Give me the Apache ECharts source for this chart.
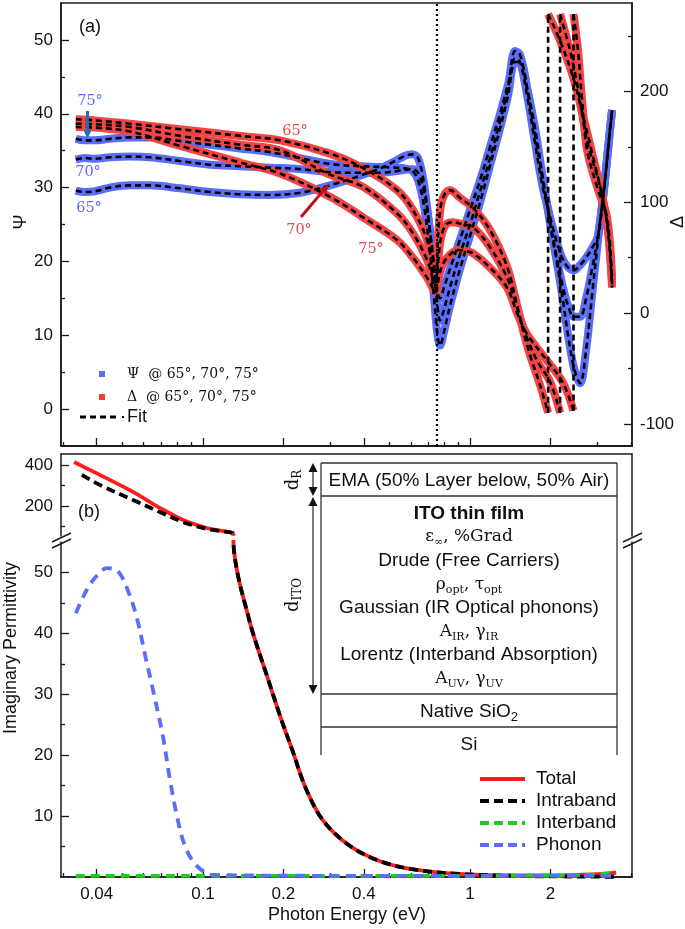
<!DOCTYPE html>
<html><head><meta charset="utf-8">
<script src="https://cdn.jsdelivr.net/npm/echarts@6/dist/echarts.min.js"></script>
<style>html,body{margin:0;padding:0;background:#fff}#c{width:685px;height:929px}</style>
</head><body><div id="c"></div>
<script>
// ---------------- DATA ----------------
const xTickMajor = [0.04, 0.1, 0.2, 0.4, 1, 2];
const xTickMinor = [0.03, 0.05, 0.06, 0.07, 0.08, 0.09, 0.3, 0.5, 0.6, 0.7, 0.8, 0.9, 3, 4];
const psiTickMajor = [0, 10, 20, 30, 40, 50];
const psiTickMinor = [5, 15, 25, 35, 45];
const deltaTickMajor = [-100, 0, 100, 200];
const deltaTickMinor = [-50, 50, 150, 250];
const epsUpperTickMajor = [200, 400];
const epsUpperTickMinor = [100, 300];
const epsLowerTickMajor = [10, 20, 30, 40, 50];
const epsLowerTickMinor = [5, 15, 25, 35, 45];

// (a) Psi (deg) vs photon energy (eV)
const psiEnergy = [0.0334,0.0361,0.0394,0.0448,0.0533,0.0633,0.0820,0.1062,0.1376,0.1782,0.2308,0.2990,0.3873,0.4602,0.5237,0.5709,0.6065,0.6387,0.6725,0.7083,0.7332,0.7524,0.7721,0.7991,0.8415,0.9174,1.000,1.090,1.188,1.295,1.388,1.474,1.539,1.635,1.752,1.860,1.994,2.099,2.211,2.328,2.452,2.582,2.720,2.864,3.016,3.177,3.345,3.403];
const psi65 = [29.6,29.4,29.5,30.0,30.3,30.3,29.9,29.4,29.1,29.0,29.3,30.3,31.6,32.6,33.6,34.3,34.5,34.0,30.5,24.0,19.5,16.0,15.0,16.5,19.0,23.0,27.0,31.0,35.5,40.0,44.0,47.5,47.0,42.5,36.0,30.5,26.0,23.0,20.5,19.2,18.8,19.5,20.5,21.8,23.5,30.0,38.0,40.5];
const psi70 = [33.8,34.0,33.9,34.1,34.2,34.1,33.6,33.1,32.9,32.7,32.5,32.1,32.0,32.0,32.2,32.4,32.5,32.0,29.5,24.0,19.0,14.5,12.0,13.5,16.5,21.0,25.0,29.5,34.0,39.0,43.5,48.5,48.0,43.5,37.0,31.5,25.5,21.0,17.0,14.0,12.5,12.5,15.0,19.0,23.5,30.0,38.0,40.5];
const psi75 = [36.6,36.4,36.4,36.6,36.8,36.8,36.3,35.8,35.3,34.8,34.0,33.2,32.9,32.8,32.7,32.6,32.3,31.0,27.5,21.0,15.0,10.5,8.6,10.5,14.0,19.0,23.5,28.0,33.0,38.0,42.5,47.0,47.0,43.5,38.0,32.0,25.0,20.5,15.5,10.0,5.5,3.5,8.0,15.5,23.0,30.0,38.0,40.5];

// (a) Delta (deg) vs photon energy (eV); the 360 deg wrap is a repeated energy
const delta65Energy = [0.0334,0.0394,0.0533,0.0820,0.1376,0.1942,0.2990,0.3975,0.5327,0.6116,0.6902,0.7271,0.7458,0.7588,0.7787,0.8063,0.8415,0.9174,1.026,1.188,1.376,1.474,1.566,1.677,1.829,1.960,1.960,2.173,2.431,2.650,2.888,3.149,3.290,3.403];
const delta65 = [175,174,171,166,160,156,144,131,111,93,66,38,28,70,98,108,111,104,95,75,42,15,-12,-38,-65,-90,270,246,213,178,141,102,72,23];
const delta70Energy = [0.0334,0.0394,0.0533,0.0820,0.1376,0.1942,0.2990,0.3975,0.5327,0.6116,0.6902,0.7271,0.7458,0.7588,0.7787,0.8131,0.8635,0.9414,1.026,1.188,1.376,1.500,1.607,1.782,1.994,2.173,2.173,2.369,2.516,2.743,3.068,3.287,3.403];
const delta70 = [171,170.5,168,160,152,147,125,114,90,72,48,30,23,45,68,80,82,80,77.5,59.5,32,5,-18,-43,-62,-90,270,237,207,156,114,75,26];
const delta75Energy = [0.0334,0.0394,0.0533,0.0820,0.1376,0.1942,0.2990,0.3975,0.5327,0.6116,0.6902,0.7271,0.7458,0.7588,0.7787,0.8202,0.9017,0.9660,1.026,1.188,1.376,1.500,1.635,1.943,2.230,2.440,2.440,2.537,2.627,2.743,2.990,3.260,3.403];
const delta75 = [168,167.5,164,151,136,126,105,86.5,66,50,32,22,19,28,40,50,57,56,54,41,23,0,-19,-43,-63,-88,270,237,192,147,114,86,30];
const dottedEnergy = 0.752;

// (b) Imaginary permittivity
const totalEnergy = [0.0329,0.0411,0.0547,0.0690,0.0842,0.1035,0.1160,0.1290,0.1300,0.1352,0.1474,0.1539,0.1737,0.1942,0.2173,0.2430,0.2814,0.3522,0.4602,0.6223,0.9097,1.593,2.369,3.000,3.523];
const totalValues = [415,352,269,191,132,93,80,69,55,49.5,43,40,33,26.5,20.5,14.5,9.3,5.2,2.6,1.2,0.5,0.25,0.3,0.45,0.7];
const intraEnergy = [0.0352,0.0411,0.0547,0.0690,0.0842,0.1035,0.1160,0.1290,0.1300,0.1352,0.1474,0.1539,0.1737,0.1942,0.2173,0.2430,0.2814,0.3522,0.4602,0.6223,0.9097,1.593,2.369,3.000,3.523];
const intraValues = [352,303,230,171,122,88,78,69,55,49.5,43,40,33,26.5,20.5,14.5,9.3,5.2,2.6,1.2,0.5,0.15,0.08,0.05,0.04];
const interEnergy = [0.0334,0.1,0.5,1.0,2.0,2.5,3.0,3.523];
const interValues = [0.2,0.2,0.2,0.2,0.22,0.28,0.42,0.75];
const phononEnergy = [0.0334,0.03677,0.04009,0.0437,0.04804,0.05237,0.05659,0.06065,0.06498,0.07085,0.0752,0.0799,0.08488,0.09096,0.09829,0.1062,0.15,0.3,1.0,3.523];
const phononValues = [43.3,47.2,49.5,50.7,50.2,47,42.5,36.5,30.7,23,16,10,5.5,2.8,1.2,0.4,0.25,0.2,0.2,0.2];

// ---------------- STYLE ----------------
const SANS = '"Liberation Sans", Arial, sans-serif';
const SERIF = '"DejaVu Serif", serif';
const AX = '#1a1a1a';
const BLUE = '#5b6ef7', RED = '#f24545';
const X_MIN = 0.0294, X_MAX = 4.04;
const UPPER_MIN = 54, UPPER_MAX = 454, LOWER_MAX = 55;

function pairs(xs, ys) { return xs.map((x, i) => [x, ys[i]]); }
function broken(xs, ys) {
  const out = [];
  for (let i = 0; i < xs.length; i++) {
    if (i > 0 && Math.abs(ys[i] - ys[i - 1]) > 300) out.push([xs[i], '-']);
    out.push([xs[i], ys[i]]);
  }
  return out;
}
function wraps(xs, ys) {
  const out = [];
  for (let i = 1; i < xs.length; i++) {
    if (Math.abs(ys[i] - ys[i - 1]) > 300) {
      if (out.length) out.push([xs[i], '-']);
      out.push([xs[i - 1], ys[i - 1]], [xs[i], ys[i]]);
    }
  }
  return out;
}
function above(data, lim) { return data.filter(p => p[1] >= lim); }

function xAxisDef(grid, pos, ticks, len, labels) {
  return {
    type: 'log', logBase: 10, gridIndex: grid, min: X_MIN, max: X_MAX, position: pos,
    axisLine: { show: !!ticks || !labels, onZero: false, lineStyle: { color: AX, width: 1.5 } },
    axisTick: ticks ? { show: true, inside: true, length: len, customValues: ticks, lineStyle: { color: AX, width: 1.3 } } : { show: false },
    axisLabel: labels ? { show: true, customValues: labels, fontSize: 17, fontFamily: SANS, color: '#111', margin: 9 } : { show: false },
    splitLine: { show: false }, minorTick: { show: false }, minorSplitLine: { show: false }
  };
}
function yAxisDef(grid, pos, min, max, ticks, len, labels, lineShow) {
  return {
    type: 'value', gridIndex: grid, min: min, max: max, position: pos,
    axisLine: { show: lineShow, onZero: false, lineStyle: { color: AX, width: 1.5 } },
    axisTick: ticks ? { show: true, inside: true, length: len, customValues: ticks, lineStyle: { color: AX, width: 1.3 } } : { show: false },
    axisLabel: labels ? { show: true, customValues: labels, fontSize: 17, fontFamily: SANS, color: '#111', margin: 8 } : { show: false },
    splitLine: { show: false }
  };
}

const lineBase = { type: 'line', symbol: 'none', showSymbol: false, smooth: 0.35, silent: true, clip: true };
function ser(data, xi, yi, color, width, dash, extra) {
  return Object.assign({}, lineBase, {
    xAxisIndex: xi, yAxisIndex: yi, data: data,
    lineStyle: { color: color, width: width, type: dash || 'solid', cap: 'butt' }
  }, extra || {});
}

const FITDASH = [6, 4];
const series = [
  ser(pairs(psiEnergy, psi65), 0, 0, BLUE, 8),
  ser(pairs(psiEnergy, psi70), 0, 0, BLUE, 8),
  ser(pairs(psiEnergy, psi75), 0, 0, BLUE, 8),
  ser(broken(delta65Energy, delta65), 0, 1, RED, 8),
  ser(broken(delta70Energy, delta70), 0, 1, RED, 8),
  ser(broken(delta75Energy, delta75), 0, 1, RED, 8),
  ser(pairs(psiEnergy, psi65), 0, 0, '#000', 2.6, FITDASH),
  ser(pairs(psiEnergy, psi70), 0, 0, '#000', 2.6, FITDASH),
  ser(pairs(psiEnergy, psi75), 0, 0, '#000', 2.6, FITDASH),
  ser(broken(delta65Energy, delta65), 0, 1, '#000', 2.6, FITDASH),
  ser(broken(delta70Energy, delta70), 0, 1, '#000', 2.6, FITDASH),
  ser(broken(delta75Energy, delta75), 0, 1, '#000', 2.6, FITDASH),
  ser(wraps(delta65Energy, delta65).concat([[1, '-']], wraps(delta70Energy, delta70), [[1, '-']], wraps(delta75Energy, delta75)), 0, 1, '#000', 2.6, FITDASH, {
    smooth: false,
    markLine: { silent: true, symbol: ['none', 'none'], label: { show: false },
      lineStyle: { color: '#000', width: 2.2, type: [2, 3] }, data: [{ xAxis: dottedEnergy }] }
  }),
  // (b) upper segment of the broken axis
  ser(above(pairs(totalEnergy, totalValues), LOWER_MAX), 2, 4, '#ff1c1c', 3.8),
  ser(above(pairs(intraEnergy, intraValues), LOWER_MAX), 2, 4, '#000', 3.8, [9, 5]),
  // (b) lower segment
  ser(pairs(totalEnergy, totalValues), 3, 7, '#ff1c1c', 3.8),
  ser(pairs(intraEnergy, intraValues), 3, 7, '#000', 3.8, [9, 5]),
  ser(pairs(interEnergy, interValues), 3, 7, '#1ccc1c', 3.8, [9, 6]),
  ser(pairs(phononEnergy, phononValues), 3, 7, '#5b6ef7', 3.8, [10, 7])
];

// ---------------- GRAPHIC ANNOTATIONS ----------------
const G = [];
function T(text, x, y, o) {
  o = o || {};
  const st = { text: text, fill: o.color || '#111', fontSize: o.size || 17, fontFamily: o.family || SANS,
    fontWeight: o.weight || 'normal', align: o.align || 'center', verticalAlign: 'middle',
    textAlign: o.align || 'center', textVerticalAlign: 'middle' };
  if (o.rich) st.rich = o.rich;
  G.push({ type: 'text', x: x, y: y, rotation: o.rot || 0, z: 100, silent: true, style: st });
}
function L(x1, y1, x2, y2, color, w, dash) {
  G.push({ type: 'line', z: 100, silent: true, shape: { x1: x1, y1: y1, x2: x2, y2: y2 },
    style: { stroke: color, lineWidth: w, lineDash: dash || null } });
}
function P(pts, color) { G.push({ type: 'polygon', z: 100, silent: true, shape: { points: pts }, style: { fill: color } }); }
function R(x, y, w, h, color) { G.push({ type: 'rect', z: 100, silent: true, shape: { x: x, y: y, width: w, height: h }, style: { fill: color } }); }
function subRich(size, fam) {
  return {
    m: { fontSize: size, fontFamily: fam, lineHeight: size + 4, fill: '#111', color: '#111' },
    s: { fontSize: Math.round(size * 0.66), fontFamily: fam, lineHeight: Math.round(size * 0.62), verticalAlign: 'bottom', fill: '#111', color: '#111' }
  };
}

const BLUE_TXT = '#5a6ef2', RED_TXT = '#ea4a4c';
// panel (a)
T('(a)', 90, 27, { size: 18 });
T('75°', 90, 101, { color: BLUE_TXT, family: SERIF, size: 14.5 });
T('70°', 88, 172, { color: BLUE_TXT, family: SERIF, size: 14.5 });
T('65°', 89, 208, { color: BLUE_TXT, family: SERIF, size: 14.5 });
L(87.5, 111, 87.5, 131, '#1d6fb8', 3);
P([[83.5, 130], [91.5, 130], [87.5, 139]], '#1d6fb8');
T('65°', 295, 131, { color: RED_TXT, family: SERIF, size: 14.5 });
T('70°', 299, 230, { color: RED_TXT, family: SERIF, size: 14.5 });
T('75°', 371, 249, { color: RED_TXT, family: SERIF, size: 14.5 });
L(301, 217, 322.5, 191.6, '#b3141c', 3);
P([[329, 184], [325.6, 194.2], [319.4, 189.0]], '#b3141c');
// legend (a)
R(99, 371, 6, 6, '#5a6ef2');
T('Ψ  @ 65°, 70°, 75°', 127, 374, { align: 'left', family: SERIF, size: 14 });
R(99, 394, 6, 6, '#f03c3c');
T('Δ  @ 65°, 70°, 75°', 127, 397, { align: 'left', family: SERIF, size: 14 });
L(80, 417, 120, 417, '#000', 3, [6, 4]);
R(122, 416, 2, 2, '#000');
T('Fit', 127, 417, { align: 'left', size: 18 });
T('Ψ', 21, 222, { size: 18, rot: Math.PI / 2 });
T('Δ', 678, 222, { size: 18, rot: Math.PI / 2 });

// panel (b)
T('(b)', 89, 512, { size: 18 });
const BOX = '#333';
L(321, 463, 617, 463, BOX, 1.3);
L(321, 496, 617, 496, BOX, 1.3);
L(321, 694, 617, 694, BOX, 1.3);
L(321, 727, 617, 727, BOX, 1.3);
L(321, 463, 321, 755, BOX, 1.3);
L(617, 463, 617, 755, BOX, 1.3);
const CX = 469;
T('EMA (50% Layer below, 50% Air)', CX, 481, { size: 19 });
T('ITO thin film', CX, 514, { size: 19, weight: 'bold' });
T('{m|ε}{s|∞}{m|, %Grad}', CX, 537, { rich: subRich(17, SERIF) });
T('Drude (Free Carriers)', CX, 561, { size: 19 });
T('{m|ρ}{s|opt}{m|, τ}{s|opt}', CX, 585, { rich: subRich(17, SERIF) });
T('Gaussian (IR Optical phonons)', CX, 608, { size: 19 });
T('{m|A}{s|IR}{m|, γ}{s|IR}', CX, 632, { rich: subRich(17, SERIF) });
T('Lorentz (Interband Absorption)', CX, 655, { size: 19 });
T('{m|A}{s|UV}{m|, γ}{s|UV}', CX, 679, { rich: subRich(17, SERIF) });
T('{m|Native SiO}{s|2}', CX, 712, { rich: subRich(19, SANS) });
T('Si', CX, 745, { size: 19 });
// thickness arrows
L(313, 470, 313, 488, '#222', 1.2);
P([[313, 463], [308.5, 472], [317.5, 472]], '#111');
P([[313, 496], [308.5, 487], [317.5, 487]], '#111');
L(313, 505, 313, 686, '#222', 1.2);
P([[313, 497], [308.5, 506], [317.5, 506]], '#111');
P([[313, 694], [308.5, 685], [317.5, 685]], '#111');
T('{m|d}{s|R}', 293, 480, { rich: subRich(18, SERIF), rot: Math.PI / 2 });
T('{m|d}{s|ITO}', 293, 595, { rich: subRich(18, SERIF), rot: Math.PI / 2 });
// axis break marks
L(52, 542, 71, 533, AX, 1.4); L(52, 548, 71, 539, AX, 1.4);
L(623, 542, 642, 533, AX, 1.4); L(623, 548, 642, 539, AX, 1.4);
// legend (b)
L(480, 779, 525, 779, '#ff1c1c', 4);
T('Total', 536, 779, { align: 'left', size: 19 });
L(480, 801, 525, 801, '#000', 4, [9, 5]);
T('Intraband', 536, 801, { align: 'left', size: 19 });
L(480, 823, 525, 823, '#1ccc1c', 4, [9, 5]);
T('Interband', 536, 823, { align: 'left', size: 19 });
L(480, 845, 525, 845, '#5b6ef7', 4, [9, 5]);
T('Phonon', 536, 845, { align: 'left', size: 19 });
T('Imaginary Permittivity', 11, 648, { size: 18, rot: Math.PI / 2 });
T('Photon Energy (eV)', 347, 915, { size: 18 });

// ---------------- OPTION ----------------
const option = {
  animation: false,
  backgroundColor: '#fff',
  grid: [
    { left: 61, top: 3, width: 571, height: 443, show: true, borderColor: AX, borderWidth: 1.5, backgroundColor: 'transparent' },
    { left: 61, top: 454, width: 571, height: 82 },
    { left: 61, top: 542, width: 571, height: 335 }
  ],
  xAxis: [
    xAxisDef(0, 'bottom', xTickMajor, 8, null),
    xAxisDef(0, 'bottom', xTickMinor, 4, null),
    xAxisDef(1, 'top', null, 0, null),
    xAxisDef(2, 'bottom', xTickMajor, 8, xTickMajor),
    xAxisDef(2, 'bottom', xTickMinor, 4, null)
  ],
  yAxis: [
    yAxisDef(0, 'left', -5, 55, psiTickMajor, 8, psiTickMajor, true),
    yAxisDef(0, 'right', -120, 280, deltaTickMajor, 8, deltaTickMajor, true),
    yAxisDef(0, 'left', -5, 55, psiTickMinor, 4, null, false),
    yAxisDef(0, 'right', -120, 280, deltaTickMinor, 4, null, false),
    yAxisDef(1, 'left', UPPER_MIN, UPPER_MAX, epsUpperTickMajor, 8, epsUpperTickMajor, true),
    yAxisDef(1, 'left', UPPER_MIN, UPPER_MAX, epsUpperTickMinor, 4, null, false),
    yAxisDef(1, 'right', UPPER_MIN, UPPER_MAX, null, 0, null, true),
    yAxisDef(2, 'left', 0, LOWER_MAX, epsLowerTickMajor, 8, epsLowerTickMajor, true),
    yAxisDef(2, 'left', 0, LOWER_MAX, epsLowerTickMinor, 4, null, false),
    yAxisDef(2, 'right', 0, LOWER_MAX, null, 0, null, true)
  ],
  series: series,
  graphic: { elements: G }
};
const chart = echarts.init(document.getElementById('c'), null, { renderer: 'canvas', width: 685, height: 929 });
chart.setOption(option);
</script>
</body></html>
